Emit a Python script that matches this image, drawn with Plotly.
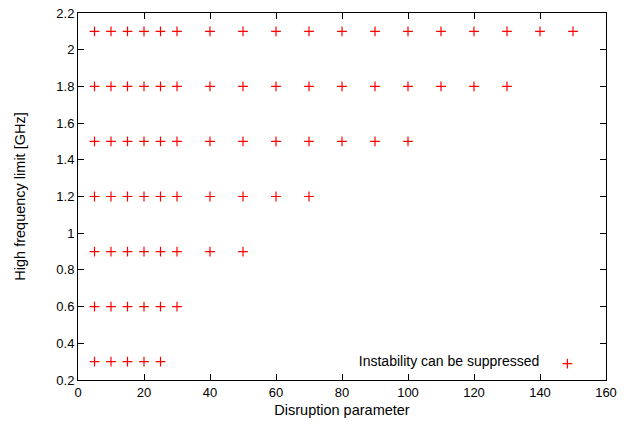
import plotly.graph_objects as go

x_values = [5, 10, 15, 20, 25, 30, 40, 50, 60, 70, 80, 90, 100, 110, 120, 130, 140, 150]
y_levels = [2.1, 1.8, 1.5, 1.2, 0.9, 0.6, 0.3]
# number of x points present at each level (from left)
counts = [18, 16, 13, 10, 8, 6, 5]

xs, ys = [], []
for y, n in zip(y_levels, counts):
    for x in x_values[:n]:
        xs.append(x)
        ys.append(y)

FONT = "Liberation Sans, Arial, sans-serif"

fig = go.Figure()
fig.add_trace(go.Scatter(
    x=xs, y=ys, mode="markers", name="",
    marker=dict(symbol="cross-thin", size=7, color="#ff0000",
                line=dict(color="#ff0000", width=1.2)),
    showlegend=True,
))

axis_common = dict(showline=True, linecolor="black", linewidth=1, mirror="ticks",
                   ticks="inside", ticklen=6, tickcolor="black", showgrid=False,
                   zeroline=False, ticklabeloverflow="allow",
                   tickfont=dict(family=FONT, size=13, color="black"))

fig.update_layout(
    width=638, height=430,
    margin=dict(l=78, r=32, t=6, b=50),
    plot_bgcolor="white", paper_bgcolor="white",
    font=dict(family=FONT, size=13, color="black"),
    xaxis=dict(range=[0, 160], dtick=20, tick0=0,
               title=dict(text="Disruption parameter", standoff=6,
                          font=dict(family=FONT, size=14.5, color="black")),
               **axis_common),
    yaxis=dict(range=[0.2, 2.2], dtick=0.2, tick0=0.2,
               title=dict(text="High frequency limit [GHz]", standoff=27,
                          font=dict(family=FONT, size=14.5, color="black")),
               **axis_common),
    legend=dict(x=0.975, y=0.0, xanchor="right", yanchor="bottom",
                bgcolor="rgba(0,0,0,0)",
                title=dict(text="Instability can be suppressed", side="left",
                           font=dict(family=FONT, size=14, color="black")),
                font=dict(family=FONT, size=14, color="black")),
)

fig.write_html("out.html")
